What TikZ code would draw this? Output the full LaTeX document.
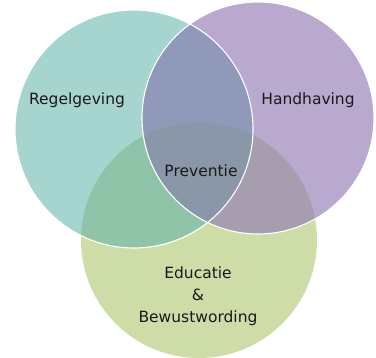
\documentclass[tikz,border=0pt]{standalone}
\usepackage{fontspec}
\setmainfont{DejaVu Sans}
\definecolor{teal1}{HTML}{A6D5CF}
\definecolor{paars}{HTML}{BAA9CF}
\definecolor{groen}{HTML}{CEDDA7}
\definecolor{tealpaars}{HTML}{9099BA}
\definecolor{tealgroen}{HTML}{90C4A9}
\definecolor{paarsgroen}{HTML}{A69EAF}
\definecolor{midden}{HTML}{8A97A8}
\begin{document}
\begin{tikzpicture}
  [x=1pt,y=-1pt,every node/.style={font=\fontsize{15.5}{22}\selectfont,text=black!90}]
  \tikzstyle{rand} = [draw=white,line width=1.1pt]
  \useasboundingbox (0,0) rectangle (376,358);
  \coordinate (cl) at (134,129);
  \coordinate (cr) at (258,118);
  \coordinate (cb) at (199,240);
  % basis cirkels
  \fill[groen] (cb) circle (118);
  \fill[teal1] (cl) circle (119);
  \fill[paars] (cr) circle (116);
  % overlappingen
  \begin{scope}
    \clip (cl) circle (119);
    \fill[tealpaars] (cr) circle (116);
    \fill[tealgroen] (cb) circle (118);
  \end{scope}
  \begin{scope}
    \clip (cr) circle (116);
    \fill[paarsgroen] (cb) circle (118);
    \clip (cl) circle (119);
    \fill[midden] (cb) circle (118);
  \end{scope}
  % randen
  \draw[rand] (cl) circle (119);
  \draw[rand] (cr) circle (116);
  % teksten
  \node (regel) at (77,100) {Regelgeving};
  \node (hand) at (308,100) {Handhaving};
  \node (prev) at (201,171) {Preventie};
  \node[align=center] (edu) at (198,296) {Educatie\\\&\\Bewustwording};
\end{tikzpicture}
\end{document}
